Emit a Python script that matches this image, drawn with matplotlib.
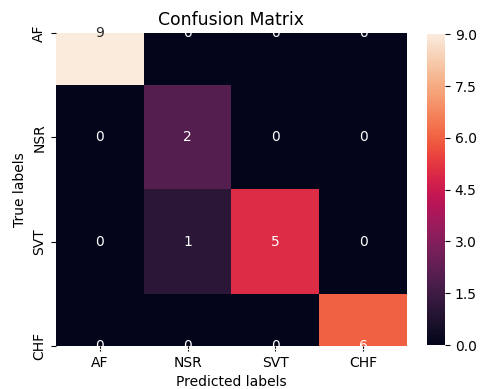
import numpy as np
import matplotlib
matplotlib.use("Agg")
import matplotlib.pyplot as plt
import seaborn as sns

labels = ["AF", "NSR", "SVT", "CHF"]
counts = [
    [9, 0, 0, 0],
    [0, 2, 0, 0],
    [0, 1, 5, 0],
    [0, 0, 0, 6],
]
cbar_ticks = [0.0, 1.5, 3.0, 4.5, 6.0, 7.5, 9.0]

cm = np.array(counts)

fig = plt.figure(figsize=(4.8, 3.89), dpi=100)
ax = fig.add_axes([0.1167, 0.111, 0.731, 0.804])
cax = fig.add_axes([0.890, 0.113, 0.037, 0.799])

sns.heatmap(cm, annot=True, fmt="d", ax=ax, cbar_ax=cax,
            xticklabels=labels, yticklabels=labels)

# row limits trimmed to the tick centres
ax.set_ylim(3.5, 0.5)

ax.set_title("Confusion Matrix", fontsize=12.4)
ax.set_xlabel("Predicted labels", fontsize=10)
ax.set_ylabel("True labels", fontsize=10)
ax.tick_params(axis="both", labelsize=10)
plt.setp(ax.get_yticklabels(), rotation=90, va="center")
plt.setp(ax.get_xticklabels(), rotation=0)

cax.set_yticks(cbar_ticks)
cax.set_yticklabels([f"{t:.1f}" for t in cbar_ticks])
cax.tick_params(labelsize=10)

fig.savefig("out.png", dpi=100)
